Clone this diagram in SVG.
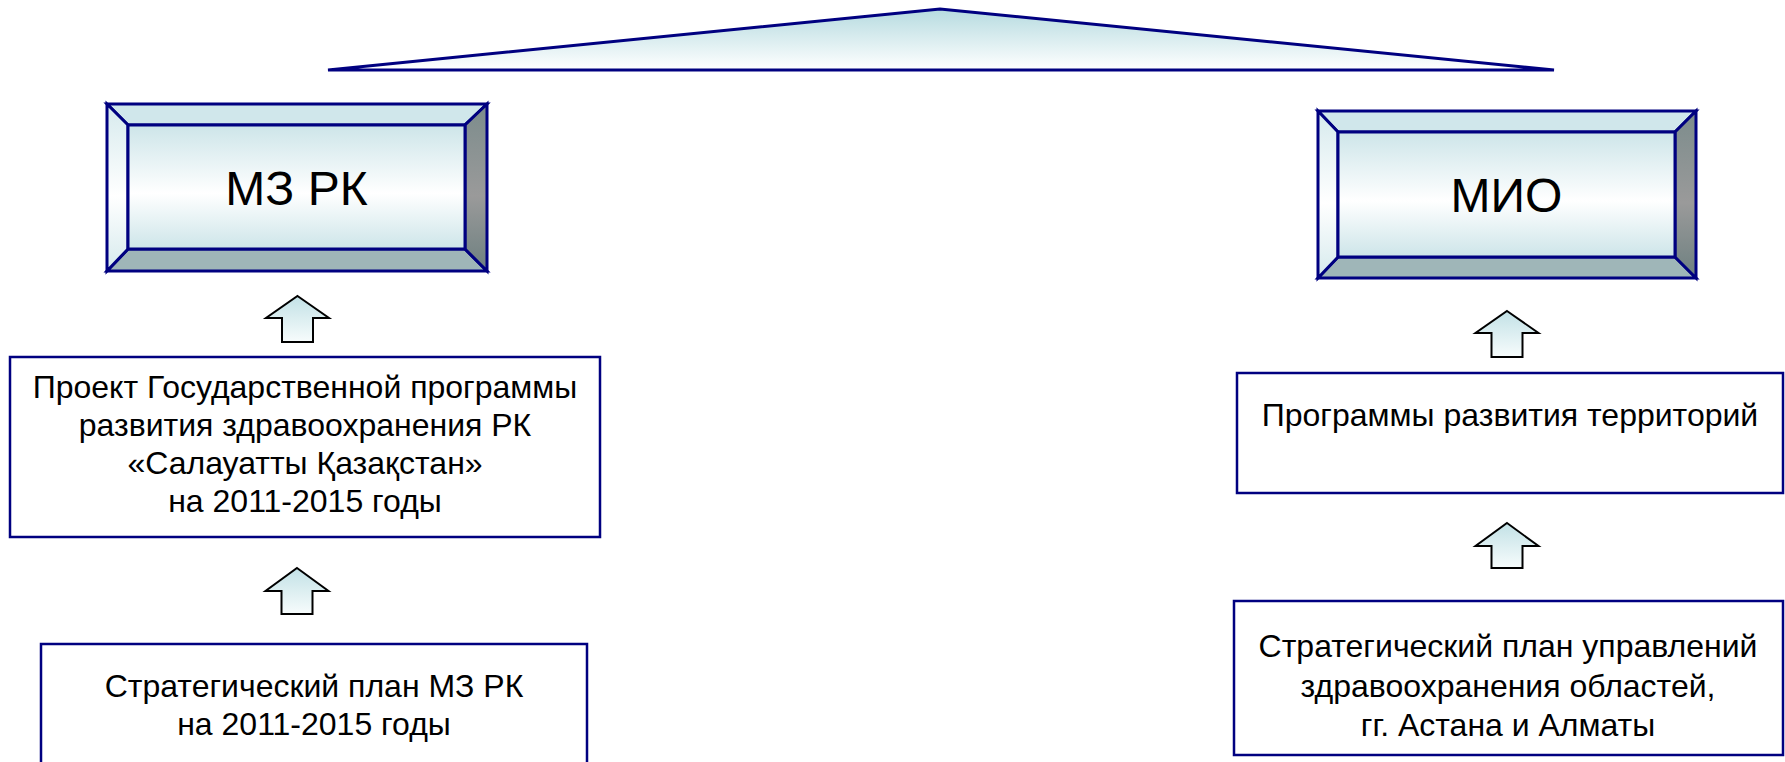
<svg xmlns="http://www.w3.org/2000/svg" width="1785" height="762" viewBox="0 0 1785 762">
<defs>
<linearGradient id="triGrad" x1="0" y1="0" x2="0" y2="1">
<stop offset="0" stop-color="#b6dbe0"/>
<stop offset="1" stop-color="#ffffff"/>
</linearGradient>
<linearGradient id="faceGrad" x1="0" y1="0" x2="0" y2="1">
<stop offset="0" stop-color="#cde5e9"/>
<stop offset="0.55" stop-color="#ffffff"/>
<stop offset="1" stop-color="#cde5e9"/>
</linearGradient>
<linearGradient id="leftGrad" x1="0" y1="0" x2="0" y2="1">
<stop offset="0" stop-color="#d6eaed"/>
<stop offset="0.55" stop-color="#ffffff"/>
<stop offset="1" stop-color="#d6eaed"/>
</linearGradient>
<linearGradient id="rightGrad" x1="0" y1="0" x2="0" y2="1">
<stop offset="0" stop-color="#7c8c8c"/>
<stop offset="0.55" stop-color="#9a9a9a"/>
<stop offset="1" stop-color="#6e8080"/>
</linearGradient>
<linearGradient id="arrowGrad" x1="0" y1="0" x2="0" y2="1">
<stop offset="0" stop-color="#c2e1e6"/>
<stop offset="1" stop-color="#f7fcfc"/>
</linearGradient>
<style>
.edge{stroke:#000080;stroke-width:3;stroke-linejoin:miter}
.top{fill:#d0e7eb}
.bot{fill:#9fb6b8}
.lft{fill:url(#leftGrad)}
.rgt{fill:url(#rightGrad)}
.face{fill:url(#faceGrad)}
.box{fill:#ffffff;stroke:#000080;stroke-width:2.5}
.arrow{fill:url(#arrowGrad);stroke:#000000;stroke-width:2;stroke-linejoin:miter}
.t48{font-family:"Liberation Sans",Arial,sans-serif;font-size:48px;fill:#000;text-anchor:middle}
.t32{font-family:"Liberation Sans",Arial,sans-serif;font-size:32px;fill:#000;text-anchor:middle}
</style>
</defs>
<rect width="1785" height="762" fill="#ffffff"/>

<g id="roof">
<polygon points="328,70 940,9 1554,70" fill="url(#triGrad)" stroke="#000080" stroke-width="3"/>
</g>

<g id="node-mz">
<polygon class="top edge" points="107,104 487,104 465,125 128,125"/>
<polygon class="bot edge" points="107,271 487,271 465,249 128,249"/>
<polygon class="lft edge" points="107,104 128,125 128,249 107,271"/>
<polygon class="rgt edge" points="487,104 465,125 465,249 487,271"/>
<rect class="face edge" x="128" y="125" width="337" height="124"/>
<text class="t48" x="296.5" y="205">МЗ РК</text>
</g>

<g id="node-mio">
<polygon class="top edge" points="1318,111 1696,111 1675,132 1338,132"/>
<polygon class="bot edge" points="1318,278 1696,278 1675,257 1338,257"/>
<polygon class="lft edge" points="1318,111 1338,132 1338,257 1318,278"/>
<polygon class="rgt edge" points="1696,111 1675,132 1675,257 1696,278"/>
<rect class="face edge" x="1338" y="132" width="337" height="125"/>
<text class="t48" x="1506.5" y="212">МИО</text>
</g>

<g id="node-program">
<rect class="box" x="10" y="357" width="590" height="180"/>
<text class="t32" x="305" y="398">Проект Государственной программы</text>
<text class="t32" x="305" y="436">развития здравоохранения РК</text>
<text class="t32" x="305" y="474">«Салауатты Қазақстан»</text>
<text class="t32" x="305" y="512">на 2011-2015 годы</text>
</g>

<g id="node-strategic-mz">
<rect class="box" x="41" y="644" width="546" height="130"/>
<text class="t32" x="314" y="697">Стратегический план МЗ РК</text>
<text class="t32" x="314" y="735">на 2011-2015 годы</text>
</g>

<g id="node-territories">
<rect class="box" x="1237" y="373" width="546" height="120"/>
<text class="t32" x="1510" y="426">Программы развития территорий</text>
</g>

<g id="node-strategic-regions">
<rect class="box" x="1234" y="601" width="549" height="154"/>
<text class="t32" x="1508" y="657">Стратегический план управлений</text>
<text class="t32" x="1508" y="697">здравоохранения областей,</text>
<text class="t32" x="1508" y="736">гг. Астана и Алматы</text>
</g>

<g id="connectors">
<path class="arrow" d="M297.5,296 L329,318 L313,318 L313,342 L282,342 L282,318 L266,318 Z"/>
<path class="arrow" d="M297,568 L328.5,591 L312.5,591 L312.5,614 L281.5,614 L281.5,591 L265.5,591 Z"/>
<path class="arrow" d="M1507,311 L1538.5,333 L1522.5,333 L1522.5,357 L1491.5,357 L1491.5,333 L1475.5,333 Z"/>
<path class="arrow" d="M1507,523 L1538.5,546 L1522.5,546 L1522.5,568 L1491.5,568 L1491.5,546 L1475.5,546 Z"/>
</g>
</svg>
